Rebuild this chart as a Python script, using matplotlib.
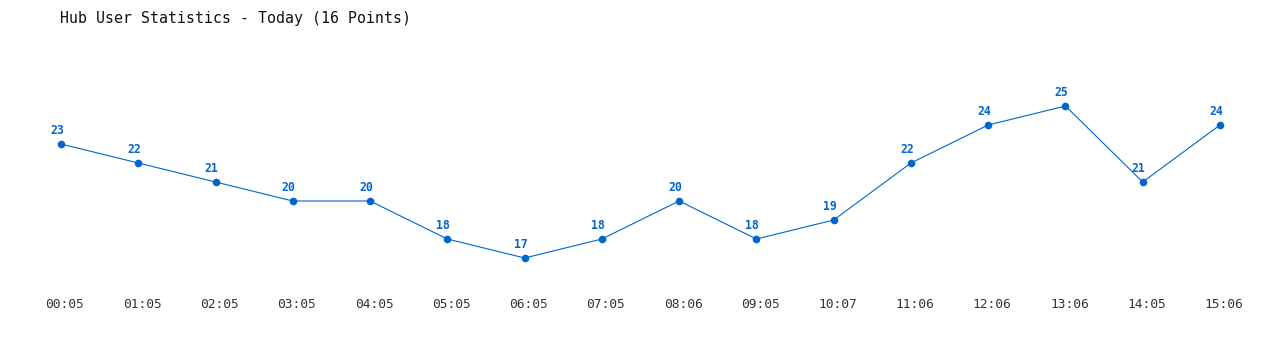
import matplotlib
matplotlib.use("Agg")
import matplotlib.pyplot as plt
import matplotlib.transforms as mtransforms

times = ["00:05", "01:05", "02:05", "03:05", "04:05", "05:05", "06:05", "07:05",
         "08:06", "09:05", "10:07", "11:06", "12:06", "13:06", "14:05", "15:06"]
users = [23, 22, 21, 20, 20, 18, 17, 18, 20, 18, 19, 22, 24, 25, 21, 24]
title = "Hub User Statistics - Today (16 Points)"

W, H = 1280, 350
fig = plt.figure(figsize=(W / 100, H / 100), dpi=100)
# axes spans pixel rows 40..290
ax = fig.add_axes([0, (H - 290) / H, 1, (290 - 40) / H])
step = (1220 - 61) / 15
ax.set_xlim(-61 / step, (W - 61) / step)
ppu = 19.0
ax.set_ylim(23 - (290 - 144) / ppu, 23 + (144 - 40) / ppu)

color = "#0066cc"
x = list(range(len(users)))
ax.plot(x, users, color=color, linewidth=0.8, marker="o", markersize=5.5,
        markeredgewidth=0, zorder=3)
for xi, v in zip(x, users):
    ax.annotate(str(v), (xi, v), xytext=(-3, 9.5), textcoords="offset points",
                ha="center", va="center", color=color, fontsize=8.3,
                fontweight="bold", family="DejaVu Sans Mono")

ax.set_xticks(x)
ax.set_xticklabels(times, family="DejaVu Sans Mono", fontsize=9.3, color="#333333")
ax.tick_params(axis="x", length=0, pad=5.5)
shift = mtransforms.ScaledTranslation(4 / 100, 0, fig.dpi_scale_trans)
for lbl in ax.get_xticklabels():
    lbl.set_transform(lbl.get_transform() + shift)
ax.set_yticks([])
for s in ax.spines.values():
    s.set_visible(False)

fig.text(60 / W, 1 - 18 / H, title, ha="left", va="center",
         family="DejaVu Sans Mono", fontsize=10.75, color="#111111")

fig.savefig("out.png", dpi=100, facecolor="white")
